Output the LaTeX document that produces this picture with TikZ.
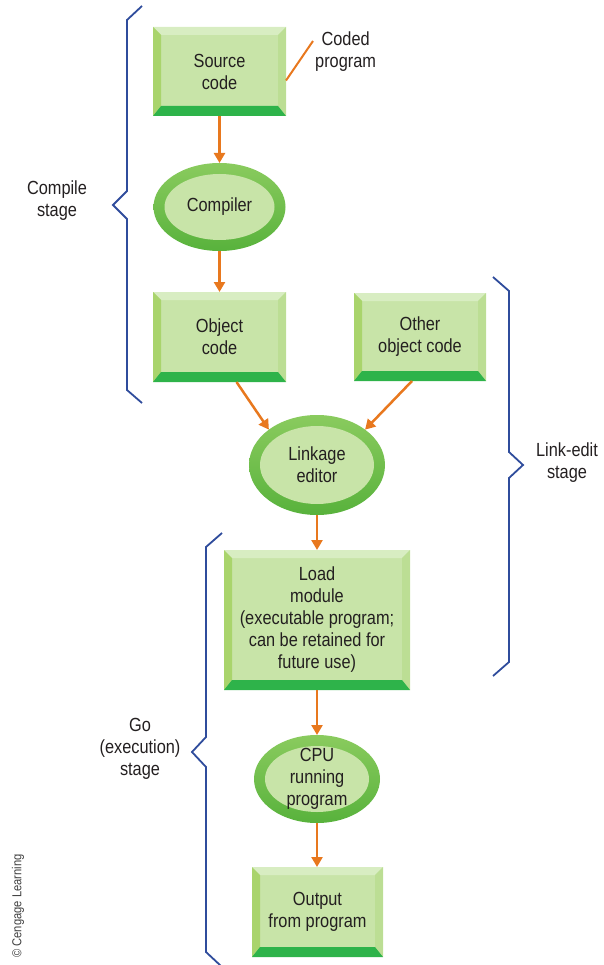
\documentclass[tikz,border=0pt]{standalone}
\usepackage{fontspec}
\setmainfont{Liberation Sans}[FakeStretch=0.86]
\usetikzlibrary{arrows.meta,shapes.geometric}

\definecolor{face}{HTML}{C8E4A8}
\definecolor{bevtop}{HTML}{D8EDC2}
\definecolor{bevleft}{HTML}{A9D46C}
\definecolor{bevright}{HTML}{BCDE94}
\definecolor{band}{HTML}{2EB34A}
\definecolor{ringlight}{HTML}{8ACB5E}
\definecolor{ringdark}{HTML}{58B23C}
\definecolor{arrowc}{HTML}{E8781E}
\definecolor{bracec}{HTML}{2F4C9C}
\definecolor{ink}{HTML}{231F20}

\begin{document}
\begin{tikzpicture}[x=1pt,y=-1pt,
  lbl/.style={font=\fontsize{19}{22}\selectfont, text=ink, align=center},
  bevelbox/.style 2 args={rectangle, fill=face, minimum width=#1pt, minimum height=#2pt,
    inner sep=0pt, outer sep=0pt, lbl,
    path picture={
      % top bevel
      \fill[bevtop] (path picture bounding box.north west) -- (path picture bounding box.north east)
        -- ([xshift=-8pt,yshift=-8pt]path picture bounding box.north east)
        -- ([xshift=8pt,yshift=-8pt]path picture bounding box.north west) -- cycle;
      % left bevel
      \fill[bevleft] (path picture bounding box.north west)
        -- ([xshift=8pt,yshift=-8pt]path picture bounding box.north west)
        -- ([xshift=8pt,yshift=10pt]path picture bounding box.south west)
        -- (path picture bounding box.south west) -- cycle;
      % right bevel
      \fill[bevright] (path picture bounding box.north east)
        -- ([xshift=-8pt,yshift=-8pt]path picture bounding box.north east)
        -- ([xshift=-8pt,yshift=10pt]path picture bounding box.south east)
        -- (path picture bounding box.south east) -- cycle;
      % bottom band
      \fill[band] (path picture bounding box.south west) -- (path picture bounding box.south east)
        -- ([xshift=-8pt,yshift=10pt]path picture bounding box.south east)
        -- ([xshift=8pt,yshift=10pt]path picture bounding box.south west) -- cycle;
    }},
  oval/.style 2 args={ellipse, minimum width={2*#1pt}, minimum height={2*#2pt},
    inner sep=0pt, outer sep=0pt, shade, top color=ringlight, bottom color=ringdark,
    path picture={
      \fill[face] (path picture bounding box.center) ellipse [x radius={#1pt-11pt}, y radius={#2pt-11pt}];
    }},
  conn/.style={draw=arrowc, line width=2.5pt, -{Triangle[length=10pt,width=11pt]}},
  lead/.style={draw=arrowc, line width=2pt},
  brace/.style={draw=bracec, line width=1.8pt, line join=miter},
]
\useasboundingbox (0,0) rectangle (604,965);

% process boxes
\node[bevelbox={133}{89}] (src) at (219.5,71.5) {Source\\code};
\node[bevelbox={133}{90}] (obj) at (219.5,337) {Object\\code};
\node[bevelbox={132}{88}] (other) at (420,337) {Other\\object code};
\node[bevelbox={186}{140}] (load) at (317,620) {Load\\module\\(executable program;\\can be retained for\\future use)};
\node[bevelbox={131}{90}] (out) at (317.5,912) {Output\\from program};

% program ovals
\node[oval={66}{44}, label={[lbl]center:Compiler}] (comp) at (219.5,207) {};
\node[oval={68}{50}, label={[lbl]center:{Linkage\\editor}}] (link) at (317,465) {};
\node[oval={63}{44}, label={[lbl]center:{CPU\\running\\program}}] (cpu) at (317,779) {};

% annotation
\node[lbl, inner sep=2pt, anchor=west] (coded) at (313,52) {Coded\\program};
\draw[lead] ([yshift=-9pt]src.east) -- ([yshift=11pt]coded.west);

% flow
\draw[conn] (src.south) -- (comp.north);
\draw[conn] (comp.south) -- (obj.north -| comp.south);
\draw[conn] ([xshift=17pt]obj.south) -- (link.north west);
\draw[conn] ([xshift=-8pt]other.south) -- (link.north east);
\draw[conn] (link.south) -- (load.north);
\draw[conn] (load.south) -- (cpu.north);
\draw[conn] (cpu.south) -- (out.north -| cpu.south);

% stage brackets
\draw[brace] (142,6) -- (127,20) -- (127,191) -- (113,205) -- (127,219) -- (127,390) -- (142,403);
\node[lbl] (compile) at (57,201) {Compile\\stage};

\draw[brace] (493,277) -- (509,291) -- (509,452) -- (523,465) -- (509,478) -- (509,662) -- (493,676);
\node[lbl] (linkedit) at (567,463) {Link-edit\\stage};

\draw[brace] (222,533) -- (206,547) -- (206,737) -- (192,752) -- (206,767) -- (206,952) -- (221,966);
\node[lbl] (go) at (140,749) {Go\\(execution)\\stage};

% credit line
\node[rotate=90, font=\fontsize{13}{15}\selectfont, text=black!75] (credit) at (18,906) {© Cengage Learning};
\end{tikzpicture}
\end{document}
